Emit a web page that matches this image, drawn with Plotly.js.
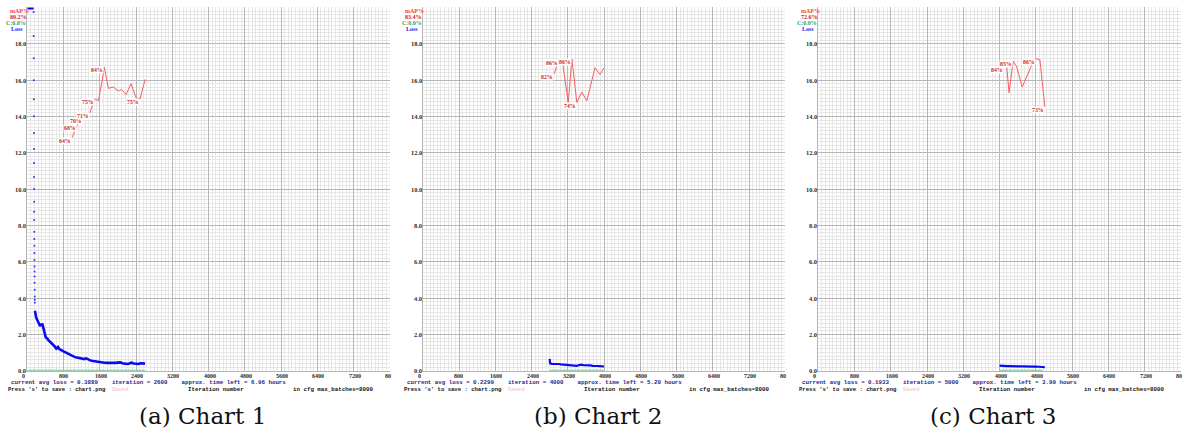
<!DOCTYPE html>
<html><head><meta charset="utf-8">
<script src="https://cdn.plot.ly/plotly-3.0.1.min.js"></script>
<style>html,body{margin:0;padding:0;background:#fff;overflow:hidden}#chart{width:1184px;height:434px}</style>
</head><body><div id="chart"></div>
<script>
// ---------------- DATA ----------------
const xTickVals = [0, 800, 1600, 2400, 3200, 4000, 4800, 5600, 6400, 7200, 8000];
const xTickText = ["0", "800", "1600", "2400", "3200", "4000", "4800", "5600", "6400", "7200", "80"];
const yTickVals = [0, 2, 4, 6, 8, 10, 12, 14, 16, 18];
const yTickText = ["0.0", "2.0", "4.0", "6.0", "8.0", "10.0", "12.0", "14.0", "16.0", "18.0"];

const captions = ["(a) Chart 1", "(b) Chart 2", "(c) Chart 3"];
const lastMap = ["80.2%", "83.4%", "72.6%"];
const statusLines = [
  "current avg loss = 0.3889    iteration = 2600    approx. time left = 6.96 hours",
  "current avg loss = 0.2299    iteration = 4000    approx. time left = 5.20 hours",
  "current avg loss = 0.1933    iteration = 5000    approx. time left = 3.99 hours"
];
const saveText = "Press 's' to save : chart.png";
const savedText = "- Saved";
const xAxisName = "Iteration number";
const maxBatchText = "in cfg max_batches=8000";

// Chart 1
const c1LossTopIter = [0, 140];
const c1LossTopVal = [20, 20];   // clipped at chart top
const c1LossDotIter = [140,141,142,143,144,145,146,147,148,149,150,151,152,153,154,155,156,157,158,159,160,161,162,163,164,165,166];
const c1LossDotVal = [19.74,18.42,17.2,15.99,14.95,14.01,13.08,12.2,11.43,10.66,10.0,9.30,8.75,8.30,7.65,7.25,6.88,6.48,6.10,5.73,5.46,5.18,4.84,4.45,4.08,3.90,3.74];
const c1LossIter = [168,180,195,210,225,240,255,270,285,300,315,330,345,360,375,390,405,420,440,460,480,500,520,540,560,580,600,620,640,660,680,700,720,745,770,800,830,860,890,920,950,980,1010,1040,1070,1100,1140,1180,1220,1260,1300,1340,1380,1420,1460,1500,1550,1600,1650,1700,1750,1800,1850,1900,1950,2000,2050,2100,2150,2200,2250,2300,2350,2400,2450,2500,2550,2600];
const c1LossVal = [3.30,3.05,2.95,2.85,2.78,2.72,2.62,2.55,2.45,2.58,2.52,2.60,2.42,2.22,2.02,1.90,1.86,1.80,1.78,1.70,1.64,1.58,1.52,1.50,1.44,1.40,1.35,1.30,1.22,1.26,1.30,1.20,1.16,1.12,1.10,1.06,1.02,0.96,0.93,0.90,0.86,0.82,0.80,0.76,0.74,0.73,0.71,0.70,0.67,0.64,0.68,0.62,0.58,0.55,0.53,0.51,0.50,0.48,0.47,0.44,0.43,0.44,0.46,0.44,0.43,0.45,0.46,0.41,0.39,0.37,0.40,0.44,0.40,0.38,0.37,0.41,0.38,0.39];
const c1MapIter = [990,1100,1240,1380,1490,1570,1640,1700,1790,1900,2010,2080,2180,2290,2400,2490,2600];
const c1MapVal = [64.2,67.6,69.6,71.0,74.8,74.4,79.0,83.6,77.7,78.1,77.0,77.4,76.0,79.0,75.1,74.8,80.2];
const c1MapLabelIdx = [0,1,2,3,4,7,15];
const c1AccIter = [0, 2600];
const c1AccVal = [0, 0];

// Chart 2
const c2LossIter = [2800,2810,2850,2900,2950,3000,3050,3100,3150,3200,3250,3300,3350,3400,3450,3500,3550,3600,3650,3700,3750,3800,3850,3900,3950,4000];
const c2LossVal = [0.65,0.40,0.38,0.39,0.36,0.37,0.35,0.34,0.35,0.32,0.33,0.30,0.28,0.27,0.31,0.33,0.30,0.31,0.28,0.29,0.27,0.28,0.26,0.25,0.26,0.23];
const c2MapIter = [2900,3000,3090,3210,3290,3400,3510,3620,3800,3910,4000];
const c2MapVal = [81.7,85.6,84.3,73.8,85.8,73.8,76.7,74.3,83.4,81.5,83.4];
const c2MapLabelIdx = [0,1,4,5];
const c2AccIter = [2800, 4000];
const c2AccVal = [0, 0];

// Chart 3
const c3LossIter = [4000,4050,4100,4150,4200,4250,4300,4350,4400,4450,4500,4550,4600,4650,4700,4750,4800,4850,4900,4950,5000];
const c3LossVal = [0.28,0.26,0.27,0.25,0.25,0.24,0.25,0.24,0.23,0.24,0.24,0.23,0.24,0.23,0.24,0.22,0.23,0.21,0.22,0.19,0.19];
const c3MapIter = [4100,4150,4210,4300,4380,4500,4740,4800,4890,5000];
const c3MapVal = [83.6,84.8,76.5,85.2,83.6,78.1,85.0,85.9,85.6,72.6];
const c3MapLabelIdx = [0,3,7,9];
const c3AccIter = [4000, 4950];
const c3AccVal = [0, 0];

// ---------------- LAYOUT ----------------
const W = 1184, H = 434;
const PANEL_OFF = [0, 395.5, 791];
const PX0 = 27.3, PW = 362.5, PTOP = 7.4, PBOT = 370.7;
const px = v => v / W, py = v => 1 - v / H;

const panels = [
  {lossIter: c1LossIter, lossVal: c1LossVal, mapIter: c1MapIter, mapVal: c1MapVal, lab: c1MapLabelIdx, accIter: c1AccIter, accVal: c1AccVal},
  {lossIter: c2LossIter, lossVal: c2LossVal, mapIter: c2MapIter, mapVal: c2MapVal, lab: c2MapLabelIdx, accIter: c2AccIter, accVal: c2AccVal},
  {lossIter: c3LossIter, lossVal: c3LossVal, mapIter: c3MapIter, mapVal: c3MapVal, lab: c3MapLabelIdx, accIter: c3AccIter, accVal: c3AccVal}
];

const MAJ = '#b6b6b6', MIN = '#e6e6e6';
const SERIF = 'Liberation Serif', MONO = 'Liberation Mono';
const traces = [], annotations = [];
const layout = {
  width: W, height: H, margin: {l: 0, r: 0, t: 0, b: 0},
  paper_bgcolor: '#fff', plot_bgcolor: '#fff', showlegend: false
};

panels.forEach((p, i) => {
  const n = i + 1, sfx = n === 1 ? '' : String(n);
  const xa = 'x' + sfx, ya = 'y' + sfx, ym = 'y' + (n + 3);
  const off = PANEL_OFF[i];
  layout['xaxis' + sfx] = {
    domain: [px(off + PX0), px(off + PX0 + PW)], range: [0, 8000], anchor: ya,
    tick0: 0, dtick: 800, showgrid: true, gridcolor: MAJ, gridwidth: 1,
    minor: {tick0: 0, dtick: 80, showgrid: true, gridcolor: MIN, gridwidth: 1},
    showticklabels: false, ticks: '', zeroline: false,
    showline: true, linecolor: MAJ, linewidth: 1, layer: 'below traces', fixedrange: true
  };
  layout['yaxis' + sfx] = {
    domain: [py(PBOT), py(PTOP)], range: [0, 20], anchor: xa,
    tick0: 0, dtick: 2, showgrid: true, gridcolor: MAJ, gridwidth: 1,
    minor: {tick0: 0, dtick: 0.2, showgrid: true, gridcolor: MIN, gridwidth: 1},
    showticklabels: false, ticks: '', zeroline: false,
    showline: true, linecolor: MAJ, linewidth: 1, layer: 'below traces', fixedrange: true
  };
  layout['yaxis' + (n + 3)] = {overlaying: ya, anchor: xa, range: [0, 100], visible: false, fixedrange: true};

  // accuracy (C) line
  traces.push({x: p.accIter, y: p.accVal, xaxis: xa, yaxis: ya, mode: 'lines',
    line: {color: 'rgb(120,195,155)', width: 2}, hoverinfo: 'skip', cliponaxis: false});
  // mAP line
  traces.push({x: p.mapIter, y: p.mapVal, xaxis: xa, yaxis: ym, mode: 'lines',
    line: {color: 'rgb(246,95,95)', width: 1}, hoverinfo: 'skip'});
  if (i === 0) {
    traces.push({x: c1LossTopIter, y: c1LossTopVal, xaxis: xa, yaxis: ya, mode: 'lines',
      line: {color: '#0000ff', width: 4}, hoverinfo: 'skip'});
    traces.push({x: c1LossDotIter, y: c1LossDotVal, xaxis: xa, yaxis: ya, mode: 'markers',
      marker: {color: '#3030ff', size: 2}, hoverinfo: 'skip'});
  }
  traces.push({x: p.lossIter, y: p.lossVal, xaxis: xa, yaxis: ya, mode: 'lines',
    line: {color: '#0a0af0', width: i === 0 ? 2.6 : 2.2}, hoverinfo: 'skip'});

  // tick labels
  xTickVals.forEach((v, k) => annotations.push({xref: xa, yref: 'paper', x: v, y: py(376), text: xTickText[k],
    xanchor: 'left', yanchor: 'middle', xshift: -6, showarrow: false, borderpad: 0,
    font: {family: SERIF, size: 6, color: '#2a2a2a', weight: 700}}));
  yTickVals.forEach((v, k) => annotations.push({xref: xa, yref: ya, x: 0, y: v, text: yTickText[k],
    xanchor: 'right', yanchor: 'middle', xshift: 0, showarrow: false, borderpad: 0,
    font: {family: SERIF, size: 6.4, color: '#2a2a2a', weight: 700}}));

  // mAP labels
  p.lab.forEach(k => annotations.push({xref: xa, yref: ym, x: p.mapIter[k], y: p.mapVal[k],
    text: Math.round(p.mapVal[k]) + '%', xanchor: 'right', yanchor: 'middle', yshift: -3.3,
    showarrow: false, borderpad: 0, bgcolor: '#fff',
    font: {family: SERIF, size: 5.8, color: '#c81e1e', weight: 700}}));

  // legend (top-left)
  const leg = [
    {t: 'mAP%', dx: 9, y: 10.8, c: '#ff3c3c'},
    {t: lastMap[i], dx: 9, y: 16.6, c: '#cc2020'},
    {t: 'C:0.0%', dx: 5, y: 23.4, c: '#2aa06a'},
    {t: 'Loss', dx: 9.5, y: 29.4, c: '#2222ee'}
  ];
  leg.forEach(l => annotations.push({xref: 'paper', yref: 'paper', x: px(off + l.dx), y: py(l.y), text: l.t,
    xanchor: 'left', yanchor: 'middle', showarrow: false, borderpad: 0,
    font: {family: SERIF, size: 6, color: l.c, weight: 700}}));

  // status texts
  const nb = s => s.replace(/ /g, '\u00a0');
  annotations.push({xref: 'paper', yref: 'paper', x: px(off + 10), y: py(382.3), text: nb(statusLines[i]),
    xanchor: 'left', yanchor: 'middle', showarrow: false, borderpad: 0,
    font: {family: MONO, size: 5.8, color: '#1e1e8c', weight: 700}});
  annotations.push({xref: 'paper', yref: 'paper', x: px(off + 7), y: py(389.5), text: nb(saveText),
    xanchor: 'left', yanchor: 'middle', showarrow: false, borderpad: 0,
    font: {family: MONO, size: 5.6, color: '#111', weight: 700}});
  annotations.push({xref: 'paper', yref: 'paper', x: px(off + 104), y: py(389.5), text: nb(savedText),
    xanchor: 'left', yanchor: 'middle', showarrow: false, borderpad: 0,
    font: {family: MONO, size: 5.6, color: '#f4cccc', weight: 700}});
  annotations.push({xref: 'paper', yref: 'paper', x: px(off + 187), y: py(389.5), text: nb(xAxisName),
    xanchor: 'left', yanchor: 'middle', showarrow: false, borderpad: 0,
    font: {family: MONO, size: 5.8, color: '#111', weight: 700}});
  annotations.push({xref: 'paper', yref: 'paper', x: px(off + 292), y: py(389.5), text: nb(maxBatchText),
    xanchor: 'left', yanchor: 'middle', showarrow: false, borderpad: 0,
    font: {family: MONO, size: 5.8, color: '#111', weight: 700}});

  // caption
  annotations.push({xref: 'paper', yref: 'paper', x: px(off + 202), y: py(416), text: captions[i],
    xanchor: 'center', yanchor: 'middle', showarrow: false, borderpad: 0,
    font: {family: 'DejaVu Serif', size: 23, color: '#111'}});
});

layout.annotations = annotations;
Plotly.newPlot('chart', traces, layout, {staticPlot: true, displayModeBar: false});
</script>
</body></html>
